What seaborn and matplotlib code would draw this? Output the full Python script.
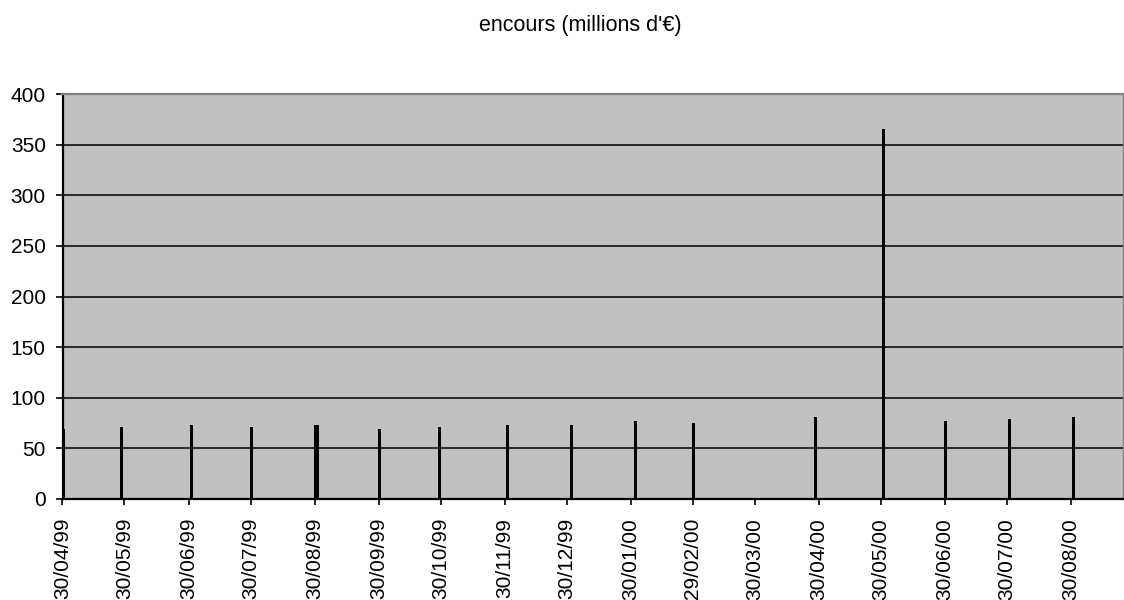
import matplotlib
matplotlib.use("Agg")
import matplotlib.pyplot as plt
import matplotlib.dates as mdates
import numpy as np
import pandas as pd
import seaborn as sns

# Outstanding amounts (millions of euros) by reporting date
dates = [
    "1999-04-30", "1999-05-28", "1999-07-01", "1999-07-30", "1999-08-30",
    "1999-08-31", "1999-09-30", "1999-10-29", "1999-12-01", "2000-01-01",
    "2000-02-01", "2000-02-29", "2000-04-28", "2000-05-31", "2000-06-30",
    "2000-07-31", "2000-08-31",
]
encours = [69, 71, 73, 71, 73, 73, 69, 71, 73, 73, 77, 75, 81, 365, 77, 79, 81]

tick_dates = [
    "1999-04-30", "1999-05-30", "1999-06-30", "1999-07-30", "1999-08-30",
    "1999-09-30", "1999-10-30", "1999-11-30", "1999-12-30", "2000-01-30",
    "2000-02-29", "2000-03-30", "2000-04-30", "2000-05-30", "2000-06-30",
    "2000-07-30", "2000-08-30",
]
tick_labels = [pd.Timestamp(d).strftime("%d/%m/%y") for d in tick_dates]
y_ticks = [0, 50, 100, 150, 200, 250, 300, 350, 400]

title = "encours (millions d'\u20ac)"

sns.set_theme(style="white")
plt.rcParams["font.family"] = ["Liberation Sans", "DejaVu Sans"]

df = pd.DataFrame({"date": pd.to_datetime(dates), "encours": encours})
df["x"] = mdates.date2num(df["date"])

fig = plt.figure(figsize=(11.24, 6.0), dpi=100)
ax = fig.add_axes([62.5 / 1124, 1 - 499 / 600, 1 - 62.5 / 1124, 405 / 600])
ax.set_facecolor("#C0C0C0")

sns.barplot(data=df, x="x", y="encours", native_scale=True, color="black",
            saturation=1, errorbar=None, width=1.3, linewidth=0, ax=ax)

# each day occupies one slot; month ticks sit on the left edge of the slot
x0 = mdates.date2num(pd.Timestamp(tick_dates[0])) - 0.5
ax.set_xlim(x0, x0 + (1124 - 62.5) / 2.066)
ax.set_ylim(0, 400)

ax.set_xticks([mdates.date2num(pd.Timestamp(d)) - 0.5 for d in tick_dates])
ax.set_xticklabels(tick_labels, rotation=90, fontsize=15)
ax.set_yticks(y_ticks)
ax.set_yticklabels([str(v) for v in y_ticks], fontsize=15)

ax.set_axisbelow(True)
ax.yaxis.grid(True, color="black", linewidth=1.1)
ax.xaxis.grid(False)

for side in ("left", "bottom"):
    ax.spines[side].set_color("black")
    ax.spines[side].set_linewidth(1.6)
for side in ("top", "right"):
    ax.spines[side].set_color("#808080")
    ax.spines[side].set_linewidth(1.6)

ax.tick_params(axis="y", direction="out", length=5, width=1.2, pad=7, colors="black")
ax.tick_params(axis="x", direction="out", length=4.5, width=1.2, pad=9, colors="black")
ax.tick_params(left=True, bottom=True)
ax.set_xlabel("")
ax.set_ylabel("")

fig.text(580 / 1124, 1 - 25 / 600, title, ha="center", va="center", fontsize=15.5,
         color="black")

fig.savefig("out.png", dpi=100, facecolor="white")
